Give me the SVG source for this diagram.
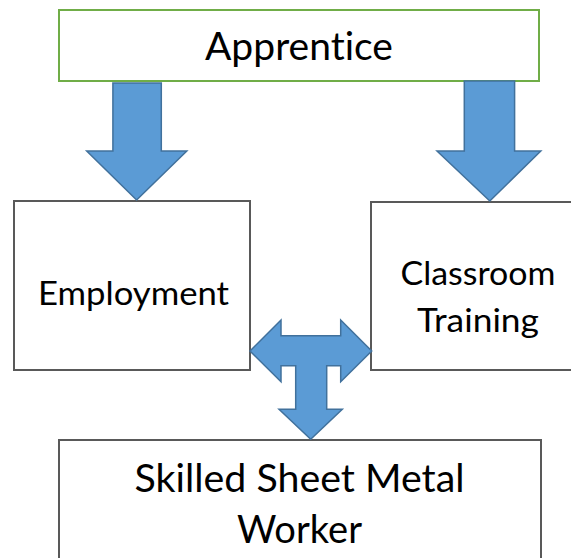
<svg xmlns="http://www.w3.org/2000/svg" width="571" height="558" viewBox="0 0 571 558">
<style>
.box{fill:#ffffff;stroke:#595959;stroke-width:2}
.green{fill:#ffffff;stroke:#70AD47;stroke-width:2}
.arrow{fill:#5B9BD5;stroke:#41719C;stroke-width:1.5;stroke-linejoin:miter}
.t{font-family:Lato,"Open Sans","Liberation Sans",sans-serif;fill:#000000;text-anchor:middle;font-variant-ligatures:none;font-feature-settings:"liga" 0,"clig" 0}
.big{font-size:38px}
.mid{font-size:33px}
</style>
<rect width="571" height="558" fill="#ffffff"/>
<g id="apprentice">
<rect class="green" x="59" y="10" width="480" height="71"/>
<text class="t big" x="299" y="60" textLength="188" lengthAdjust="spacingAndGlyphs">Apprentice</text>
</g>
<g id="employment">
<rect class="box" x="14" y="201" width="236" height="169"/>
<text class="t mid" x="133.5" y="305" textLength="191" lengthAdjust="spacingAndGlyphs">Employment</text>
</g>
<g id="classroom">
<rect class="box" x="371" y="202" width="240" height="168"/>
<text class="t mid" x="478" y="285" textLength="155" lengthAdjust="spacingAndGlyphs">Classroom</text>
<text class="t mid" x="478" y="332" textLength="122" lengthAdjust="spacingAndGlyphs">Training</text>
</g>
<g id="worker">
<rect class="box" x="59" y="440" width="482" height="160"/>
<text class="t big" x="299.5" y="492" textLength="330" lengthAdjust="spacingAndGlyphs">Skilled Sheet Metal</text>
<text class="t big" x="299.5" y="543" textLength="125" lengthAdjust="spacingAndGlyphs">Worker</text>
</g>
<g id="connectors">
<polygon class="arrow" points="112.9,83 161.3,83 161.3,151 186.8,151 136.6,200 86.7,151 112.9,151"/>
<polygon class="arrow" points="464.3,81 514.6,81 514.6,151 540.8,151 489.8,201 437,151 464.3,151"/>
<polygon class="arrow" points="250,351 281,320 281,335.7 340.7,335.7 340.7,320 371.7,351 340.7,381.7 340.7,365.7 326.7,365.7 326.7,409.3 342.3,409.3 310.7,439.3 279,409.3 295.7,409.3 295.7,365.7 281,365.7 281,381.7"/>
</g>
</svg>
